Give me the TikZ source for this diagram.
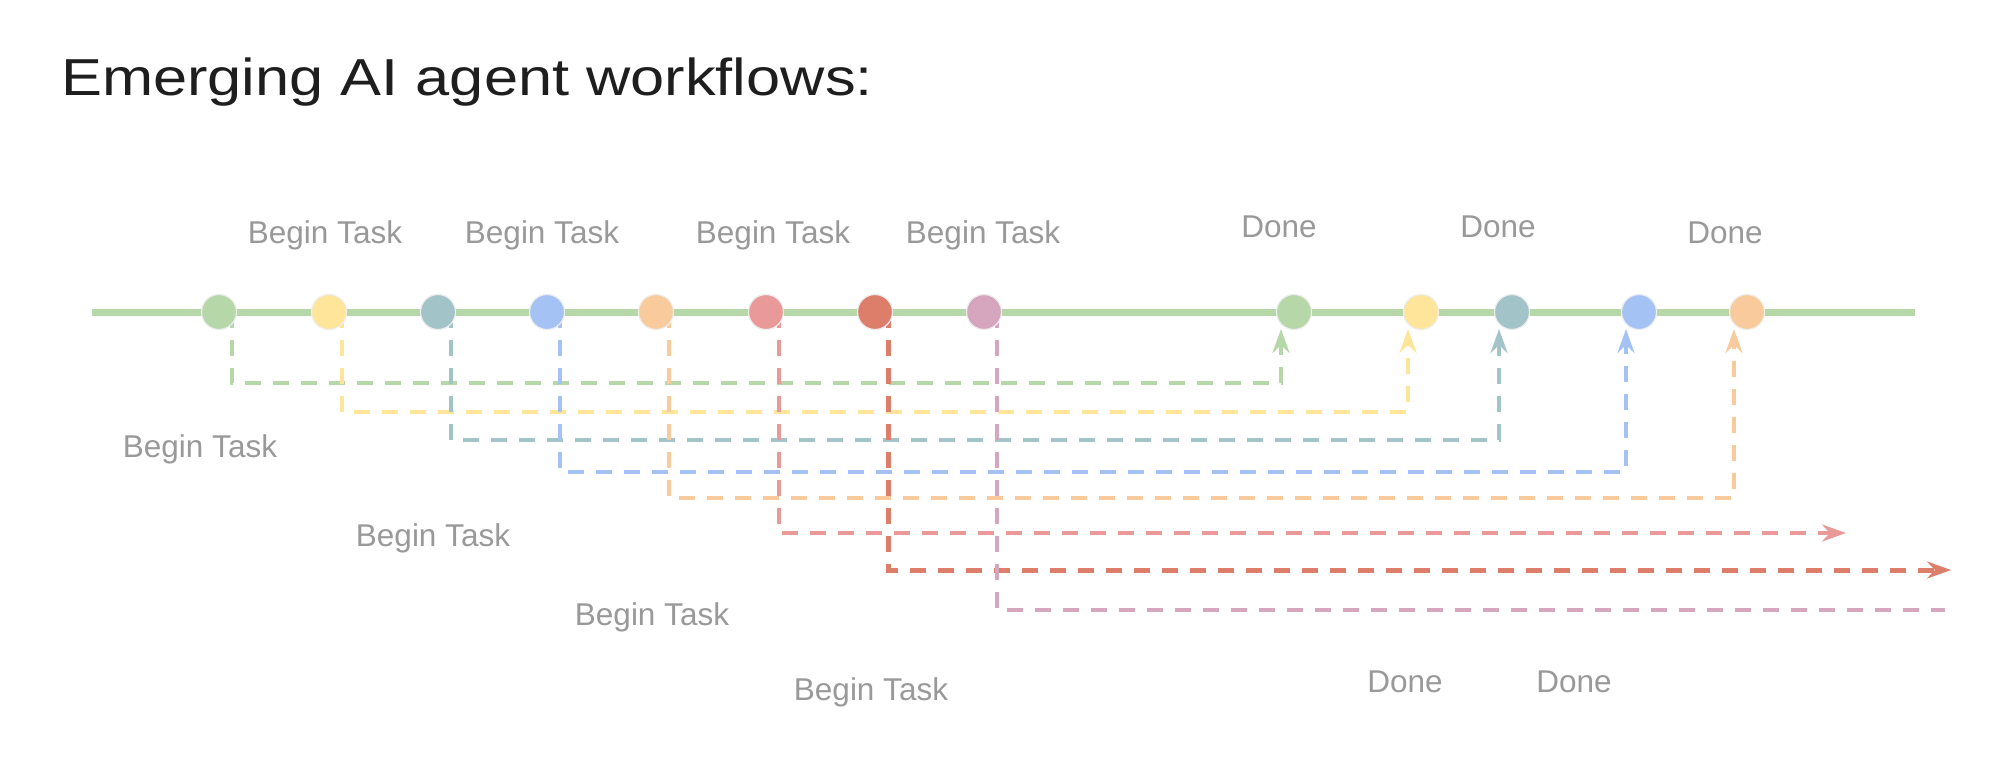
\documentclass[tikz,border=0pt]{standalone}
\usepackage{fontspec}
\setmainfont{Liberation Sans}
\usetikzlibrary{arrows.meta,calc}
\definecolor{cgreen}{HTML}{B6D7A8}
\definecolor{cyellow}{HTML}{FFE599}
\definecolor{cteal}{HTML}{A2C4C9}
\definecolor{cblue}{HTML}{A4C2F4}
\definecolor{corange}{HTML}{F9CB9C}
\definecolor{cpink}{HTML}{EA9999}
\definecolor{cred}{HTML}{DD7E6B}
\definecolor{cmauve}{HTML}{D5A6BD}
\definecolor{labelgray}{HTML}{999999}
\definecolor{titleink}{HTML}{1E1E1E}
\begin{document}
\begin{tikzpicture}[x=1pt,y=-1pt,
  dot/.style={circle, minimum size=35pt, inner sep=0pt, draw=black!7, line width=1.2pt, fill=#1},
  lbl/.style={text=labelgray, font=\fontsize{31.5}{36}\selectfont, anchor=base, inner sep=0pt},
  flow/.style={draw=#1, line width=4pt, dash pattern=on 16pt off 12pt},
  tip/.style={-{Stealth[length=24pt 0 0,width=17pt 0 0,inset=8pt 0 0]}},
]
\useasboundingbox[fill=white] (0,0) rectangle (1996,766);

% title
\node[anchor=base west, inner sep=0pt, text=titleink, font=\fontsize{52}{60}\selectfont]
  (title) at (61,95) {\scalebox{1.18}[1]{Emerging AI agent workflows:}};

% timeline
\coordinate (L0) at (92,312);
\coordinate (L1) at (1915,312);
\draw[cgreen, line width=7pt] (L0) -- (L1);

% positions of dots
\coordinate (s1) at (219,312);
\coordinate (s2) at (329,312);
\coordinate (s3) at (438,312);
\coordinate (s4) at (547,312);
\coordinate (s5) at (656,312);
\coordinate (s6) at (766,312);
\coordinate (s7) at (875,312);
\coordinate (s8) at (984,312);
\coordinate (d1) at (1294,312);
\coordinate (d2) at (1421,312);
\coordinate (d3) at (1512,312);
\coordinate (d4) at (1639,312);
\coordinate (d5) at (1747,312);
\coordinate (e6) at (1846,533);
\coordinate (e7) at (1951,570);
\coordinate (e8) at (1945,610);

% connectors
\draw[flow=cgreen, tip] ($(s1)+(13,0)$) -- ++(0,71) -| ($(d1)+(-13,17)$);
\draw[flow=cyellow, tip] ($(s2)+(13,0)$) -- ++(0,100) -| ($(d2)+(-13,17)$);
\draw[flow=cteal, tip] ($(s3)+(13,0)$) -- ++(0,128) -| ($(d3)+(-13,17)$);
\draw[flow=cblue, tip] ($(s4)+(13,0)$) -- ++(0,160) -| ($(d4)+(-13,17)$);
\draw[flow=corange, tip] ($(s5)+(13,0)$) -- ++(0,186) -| ($(d5)+(-13,17)$);
\draw[flow=cpink, tip] ($(s6)+(13,0)$) |- (e6);
\draw[flow=cred, line width=5pt, tip] ($(s7)+(13,0)$) |- (e7);
\draw[flow=cmauve, line width=3.5pt] ($(s8)+(13,0)$) |- (e8);

% dots
\node[dot=cgreen] (S1) at (s1) {};
\node[dot=cyellow] (S2) at (s2) {};
\node[dot=cteal] (S3) at (s3) {};
\node[dot=cblue] (S4) at (s4) {};
\node[dot=corange] (S5) at (s5) {};
\node[dot=cpink] (S6) at (s6) {};
\node[dot=cred] (S7) at (s7) {};
\node[dot=cmauve] (S8) at (s8) {};
\node[dot=cgreen] (D1) at (d1) {};
\node[dot=cyellow] (D2) at (d2) {};
\node[dot=cteal] (D3) at (d3) {};
\node[dot=cblue] (D4) at (d4) {};
\node[dot=corange] (D5) at (d5) {};

% labels
\node[lbl] (bt1) at (325,243) {Begin Task};
\node[lbl] (bt2) at (542,243) {Begin Task};
\node[lbl] (bt3) at (773,243) {Begin Task};
\node[lbl] (bt4) at (983,243) {Begin Task};
\node[lbl] (dn1) at (1279,237) {Done};
\node[lbl] (dn2) at (1498,237) {Done};
\node[lbl] (dn3) at (1725,243) {Done};
\node[lbl] (bb1) at (200,457) {Begin Task};
\node[lbl] (bb2) at (433,546) {Begin Task};
\node[lbl] (bb3) at (652,625) {Begin Task};
\node[lbl] (bb4) at (871,700) {Begin Task};
\node[lbl] (dn4) at (1405,692) {Done};
\node[lbl] (dn5) at (1574,692) {Done};
\end{tikzpicture}
\end{document}
